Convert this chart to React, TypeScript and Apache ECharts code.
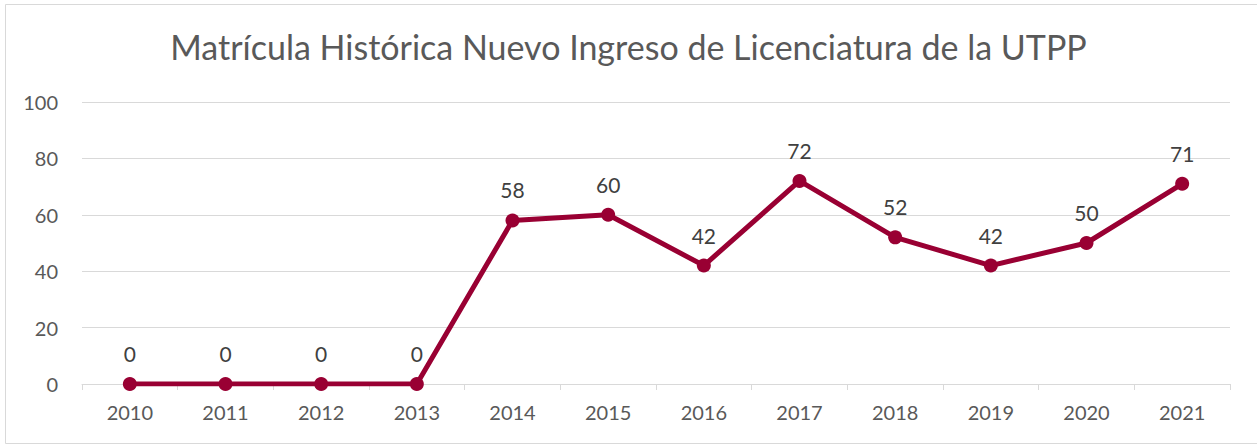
import React, { useEffect, useRef } from "react";
import * as echarts from "echarts";

const years = ["2010", "2011", "2012", "2013", "2014", "2015", "2016", "2017", "2018", "2019", "2020", "2021"];
const matricula = [0, 0, 0, 0, 58, 60, 42, 72, 52, 42, 50, 71];
const titleText = "Matrícula Histórica Nuevo Ingreso de Licenciatura de la UTPP";

export default function App() {
  const ref = useRef<HTMLDivElement>(null);
  useEffect(() => {
    if (!ref.current) return;
    const chart = echarts.init(ref.current, null, { renderer: "svg" });
    chart.setOption({
      animation: false,
      backgroundColor: "#ffffff",
      textStyle: { fontFamily: "Lato" },
      title: {
        text: titleText,
        left: "center",
        top: 24,
        textStyle: { fontFamily: "Lato", fontSize: 34, fontWeight: "normal", color: "#595959" },
      },
      graphic: [
        {
          type: "rect",
          shape: { x: 5.5, y: 4.5, width: 1300, height: 439 },
          style: { fill: "none", stroke: "#d9d9d9", lineWidth: 1 },
          silent: true,
        },
      ],
      grid: { left: 82, right: 27, top: 102, bottom: 61 },
      xAxis: {
        type: "category",
        data: years,
        boundaryGap: true,
        axisLine: { lineStyle: { color: "#d9d9d9", width: 1 } },
        axisTick: { show: true, length: 6, lineStyle: { color: "#d9d9d9" } },
        axisLabel: { color: "#595959", fontSize: 20, margin: 18, fontFamily: "Lato" },
      },
      yAxis: {
        type: "value",
        min: 0,
        max: 100,
        interval: 20,
        axisLine: { show: false },
        axisTick: { show: false },
        splitLine: { lineStyle: { color: "#d9d9d9", width: 1 } },
        axisLabel: { color: "#595959", fontSize: 20, margin: 24, fontFamily: "Lato" },
      },
      series: [
        {
          type: "line",
          data: matricula,
          symbol: "circle",
          symbolSize: 14,
          lineStyle: { color: "#990033", width: 5 },
          itemStyle: { color: "#990033" },
          label: {
            show: true,
            position: "top",
            distance: 13,
            color: "#404040",
            fontSize: 21,
            fontFamily: "Lato",
          },
        },
      ],
    });
    return () => chart.dispose();
  }, []);
  return (
    <div
      ref={ref}
      style={{ position: "fixed", left: 0, top: 0, width: 1257, height: 445 }}
    />
  );
}
